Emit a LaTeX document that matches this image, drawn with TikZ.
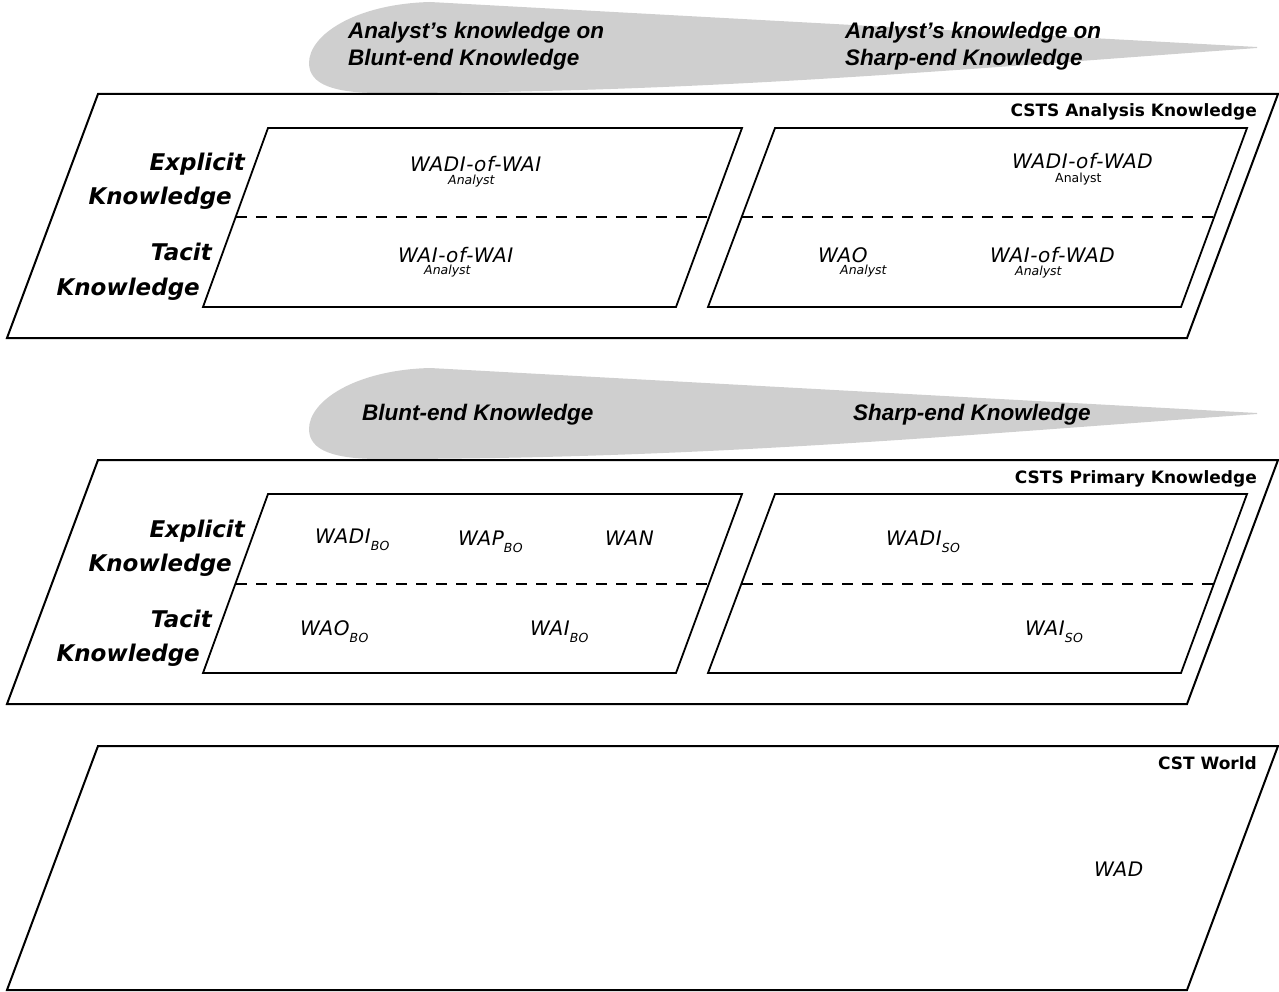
\documentclass[tikz,border=0pt]{standalone}
\usepackage{fontspec}
\setmainfont{Liberation Sans}
\newfontfamily\widefont{DejaVu Sans}[ItalicFont={DejaVu Sans Oblique},BoldFont={DejaVu Sans Bold},BoldItalicFont={DejaVu Sans Bold Oblique}]
\newfontfamily\termfont{DejaVu Sans}[ItalicFont={DejaVu Sans Oblique},LetterSpace=3]
\newcommand\lowsub[1]{\raisebox{-7pt}{\fontsize{12.5}{13}\selectfont #1}}
\tikzset{
  plane edge/.style={draw, line width=2pt, fill=white},
  half edge/.style={draw, line width=1.8pt},
  split line/.style={line width=2pt, dash pattern=on 11pt off 9pt},
  cone fill/.style={fill=black!19},
  plane title/.style={anchor=base east, inner sep=0pt, font=\widefont\bfseries\fontsize{17}{20}\selectfont},
  side text/.style={anchor=base east, inner sep=0pt, font=\widefont\bfseries\itshape\fontsize{23}{26}\selectfont},
  cone text/.style={anchor=west, inner sep=0pt, align=left, font=\bfseries\itshape\fontsize{22.5}{26.5}\selectfont},
  term/.style={anchor=base west, inner sep=0pt, font=\termfont\itshape\fontsize{20}{22}\selectfont},
  who/.style={anchor=base west, inner sep=0pt, font=\widefont\itshape\fontsize{12.5}{13}\selectfont},
  pics/cone/.style={
    code={
      \fill[cone fill] (1257,47) -- (430,2) .. controls (355,4) and (309,35) .. (309,63)
        .. controls (309,85) and (335,93) .. (380,93) .. controls (700,93) and (950,70) .. (1257,48) -- cycle;
    }
  },
  pics/plane/.style={
    code={
      \path[plane edge] (98,94) -- (1278,94) -- (1187,338) -- (7,338) -- cycle;
      \node[plane title] (-title) at (1257,117) {#1};
    }
  },
  pics/split plane/.style={
    code={
      \path[plane edge] (98,94) -- (1278,94) -- (1187,338) -- (7,338) -- cycle;
      \node[plane title] (-title) at (1257,117) {#1};
      % blunt-end half and sharp-end half
      \draw[half edge] (268,128) -- (742,128) -- (676,307) -- (203,307) -- cycle;
      \draw[half edge] (775,128) -- (1247,128) -- (1181,307) -- (708,307) -- cycle;
      % explicit above, tacit below
      \draw[split line] (236,217.5) -- (709,217.5);
      \draw[split line] (742,217.5) -- (1214,217.5);
      \node[side text] (-exp) at (245,171) {Explicit};
      \node[side text] (-expk) at (232,205) {Knowledge};
      \node[side text] (-tac) at (212,261) {Tacit};
      \node[side text] (-tack) at (200,295) {Knowledge};
    }
  }
}

\begin{document}
\begin{tikzpicture}[x=1pt,y=-1pt]
	\useasboundingbox (0,0) rectangle (1279,992);

	%grey wedges, blunt end on the left
	\pic at (0,0) {cone};
	\pic at (0,366) {cone};
	\node[cone text] (anblunt) at (348,46) {Analyst’s knowledge on\\Blunt-end Knowledge};
	\node[cone text] (ansharp) at (845,46) {Analyst’s knowledge on\\Sharp-end Knowledge};
	\node[cone text] (blunt) at (362,415) {Blunt-end Knowledge};
	\node[cone text] (sharp) at (853,415) {Sharp-end Knowledge};

	%the three planes
	\pic (an) at (0,0) {split plane={CSTS Analysis Knowledge}};
	\pic (pk) at (0,366) {split plane={CSTS Primary Knowledge}};
	\pic (cw) at (0,652) {plane={CST World}};

	%analysis knowledge
	\node[term] (wadiwai) at (410,172) {WADI-of-WAI};
	\node[who] (wadiwai-a) at (448,185) {Analyst};
	\node[term] (waiwai) at (398,262) {WAI-of-WAI};
	\node[who] (waiwai-a) at (424,275) {Analyst};
	\node[term] (wadiwad) at (1012,169) {WADI-of-WAD};
	\node[who,font=\widefont\upshape\fontsize{12.5}{13}\selectfont] (wadiwad-a) at (1055,183) {Analyst};
	\node[term] (wao) at (818,262) {WAO};
	\node[who] (wao-a) at (840,274) {Analyst};
	\node[term] (waiwad) at (990,262) {WAI-of-WAD};
	\node[who] (waiwad-a) at (1015,276) {Analyst};

	%primary knowledge
	\node[term] (wadibo) at (315,543) {WADI\lowsub{BO}};
	\node[term] (wapbo) at (458,545) {WAP\lowsub{BO}};
	\node[term] (wan) at (605,545) {WAN};
	\node[term] (waobo) at (300,635) {WAO\lowsub{BO}};
	\node[term] (waibo) at (530,635) {WAI\lowsub{BO}};
	\node[term] (wadiso) at (886,545) {WADI\lowsub{SO}};
	\node[term] (waiso) at (1025,635) {WAI\lowsub{SO}};

	%world
	\node[term] (wad) at (1094,876) {WAD};

\end{tikzpicture}
\end{document}
